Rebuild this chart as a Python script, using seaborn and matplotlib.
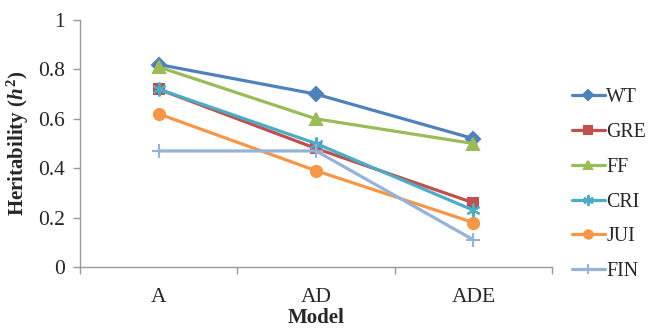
import pandas as pd
import seaborn as sns
import matplotlib.pyplot as plt
from matplotlib.ticker import FixedLocator

sns.set_theme(style="white")
plt.rcParams['font.family'] = ['Liberation Serif', 'DejaVu Serif']
plt.rcParams['mathtext.fontset'] = 'custom'
plt.rcParams['mathtext.it'] = 'Liberation Serif:italic:bold'
plt.rcParams['mathtext.rm'] = 'Liberation Serif:bold'

# data
models = ['A', 'AD', 'ADE']
wt = [0.82, 0.70, 0.52]
gre = [0.72, 0.48, 0.26]
ff = [0.81, 0.60, 0.50]
cri = [0.72, 0.50, 0.23]
jui = [0.62, 0.39, 0.18]
fin = [0.47, 0.47, 0.11]

series = {'WT': wt, 'GRE': gre, 'FF': ff, 'CRI': cri, 'JUI': jui, 'FIN': fin}

pal = {'WT': '#4F81BD', 'GRE': '#C0504D', 'FF': '#9BBB59',
       'CRI': '#4BACC6', 'JUI': '#F79646', 'FIN': '#95B3D7'}
marks = {'WT': 'D', 'GRE': 's', 'FF': '^', 'CRI': (6, 2, 0), 'JUI': 'o', 'FIN': '+'}
msize = {'WT': 7, 'GRE': 7, 'FF': 8, 'CRI': 10, 'JUI': 8, 'FIN': 10}

fig = plt.figure(figsize=(6.48, 3.29), dpi=100)
ax = fig.add_axes([0.1235, 0.1884, 0.7285, 0.7506])

for name, vals in series.items():
    d = pd.DataFrame({'Model': models, 'h2': vals})
    sns.lineplot(data=d, x='Model', y='h2', color=pal[name], marker=marks[name],
                 markersize=msize[name], markeredgecolor=pal[name], markeredgewidth=1.5,
                 linewidth=2.3, label=name, ax=ax)

ax.set_xlim(-0.5, 2.5)
ax.set_ylim(0, 1)
ax.set_yticks([0, 0.2, 0.4, 0.6, 0.8, 1])
ax.set_yticklabels(['0', '0.2', '0.4', '0.6', '0.8', '1'])
ax.set_xticks([0, 1, 2])
ax.set_xticklabels(models)
ax.xaxis.set_minor_locator(FixedLocator([-0.5, 0.5, 1.5, 2.5]))
ax.tick_params(axis='x', which='major', length=0, pad=15, labelsize=15.5)
ax.tick_params(axis='x', which='minor', length=5, color='#999999', width=1, direction='out', bottom=True)
ax.tick_params(axis='y', length=5, color='#999999', width=1, direction='out', left=True, labelsize=15.5, pad=6)

for s in ['top', 'right']:
    ax.spines[s].set_visible(False)
for s in ['left', 'bottom']:
    ax.spines[s].set_color('#999999')
    ax.spines[s].set_linewidth(1)

ax.set_xlabel('Model', fontsize=15, fontweight='bold', labelpad=1)
ax.set_ylabel(r'Heritability ($\mathit{h}^2$)', fontsize=15, fontweight='bold', labelpad=5)

ax.legend(title=None, frameon=False, loc='upper left', bbox_to_anchor=(0.882, 0.733),
          bbox_transform=fig.transFigure, fontsize=14.3, handlelength=1.7,
          labelspacing=0.8, handletextpad=0.05, borderaxespad=0, borderpad=0,
          markerscale=0.75)

fig.savefig('out.png', dpi=100)
